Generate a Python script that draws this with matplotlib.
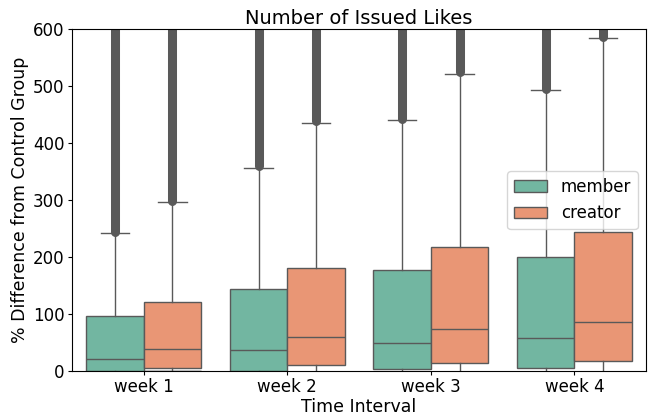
import numpy as np
import matplotlib.pyplot as plt
import seaborn as sns

weeks = ["week 1", "week 2", "week 3", "week 4"]
groups = ["member", "creator"]

# box stats (% difference)
q1 = {"member": [0, 0, 4, 6], "creator": [5, 10, 15, 17.5]}
med = {"member": [21, 37, 49, 58], "creator": [38, 60, 74, 86]}
q3 = {"member": [97, 144, 178, 200], "creator": [122, 180, 217, 244]}
whis_hi = {"member": [242, 357, 440, 493], "creator": [297, 436, 522, 585]}
whis_lo = {"member": [-100, -100, -100, -100], "creator": [-100, -100, -100, -100]}
# lowest outlier; outliers run on densely past the top of the axis
flier_lo = {"member": [244, 359, 442, 495], "creator": [299, 438, 524, 587]}
flier_hi = 1000

pal = sns.color_palette("Set2", 2, desat=0.75)
line_c = "#595959"

fig = plt.figure(figsize=(6.54, 4.16), dpi=100)
ax = fig.add_axes([0.110, 0.108, 0.878, 0.822])

width = 0.8 / len(groups)
for g, grp in enumerate(groups):
    pos = np.arange(len(weeks)) - 0.4 + width * (g + 0.5)
    stats = []
    for i in range(len(weeks)):
        stats.append(dict(med=med[grp][i], q1=q1[grp][i], q3=q3[grp][i],
                          whislo=whis_lo[grp][i], whishi=whis_hi[grp][i], fliers=[]))
    ax.bxp(stats, positions=pos, widths=width, patch_artist=True, showfliers=False,
           boxprops=dict(facecolor=pal[g], edgecolor=line_c, linewidth=1),
           medianprops=dict(color=line_c, linewidth=1),
           whiskerprops=dict(color=line_c, linewidth=1),
           capprops=dict(color=line_c, linewidth=1),
           capwidths=width / 2, label=None, manage_ticks=False)
    for i in range(len(weeks)):
        ax.plot([pos[i], pos[i]], [flier_lo[grp][i], flier_hi], color=line_c,
                lw=6.5, solid_capstyle="round", zorder=1.5)
    ax.bar(0, 0, color=pal[g], edgecolor=line_c, label=grp)

ax.set_xticks(np.arange(len(weeks)))
ax.set_xticklabels(weeks)
ax.set_xlim(-0.5, len(weeks) - 0.5)
ax.set_ylim(0, 600)
ax.tick_params(labelsize=12, length=2.6, pad=2.6)
ax.set_xlabel("Time Interval", fontsize=12.5, labelpad=1.5)
ax.set_ylabel("% Difference from Control Group", fontsize=12.5, labelpad=3)
ax.set_title("Number of Issued Likes", fontsize=14, pad=4)
ax.legend(loc="center right", fontsize=12)

plt.savefig("out.png")
